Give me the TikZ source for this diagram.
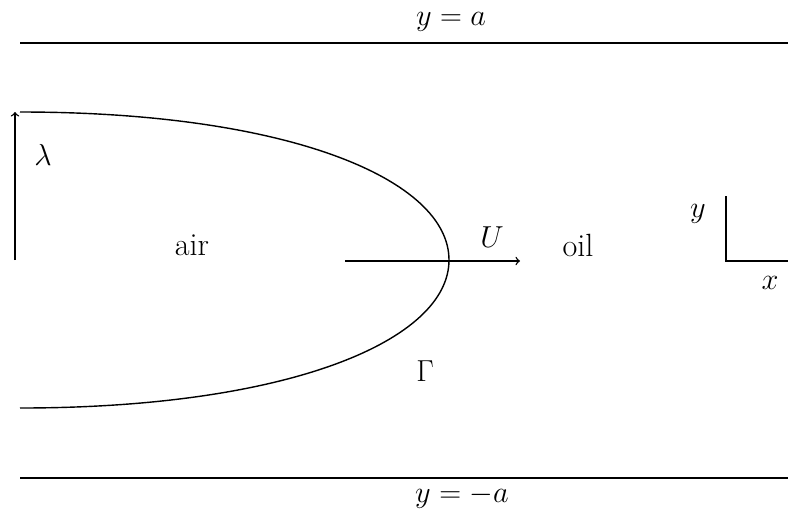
\documentclass[tikz,border=0pt]{standalone}
\usepackage{amsmath}
\begin{document}
\begin{tikzpicture}[x=0.02cm,y=-0.02cm,line width=0.8pt,
  lbl/.style={font=\fontsize{18.3}{22}\selectfont,inner sep=0pt}]
\useasboundingbox (0,0) rectangle (788,515);
% channel walls
\coordinate (topL) at (20,43);
\coordinate (topR) at (788,43);
\coordinate (botL) at (20,478);
\coordinate (botR) at (788,478);
\draw (topL) -- (topR);
\draw (botL) -- (botR);
\node[lbl] (wallA) at (451,22) {$y=a$};
\node[lbl] (wallB) at (462,497) {$y=-a$};

% bubble width
\coordinate (lamB) at (15,260);
\coordinate (lamT) at (15,112);
\draw[->] (lamB) -- (lamT);
\node[lbl] (lam) at (43,155) {$\lambda$};

% interface
\coordinate (gTop) at (20,112);
\coordinate (gTip) at (449,260);
\coordinate (gBot) at (20,408);
\draw (gTop) .. controls (290,112) and (449,180) .. (gTip)
  .. controls (449,340) and (290,408) .. (gBot);
\node[lbl] (gam) at (425,371) {$\Gamma$};

% speed
\coordinate (uA) at (345,261);
\coordinate (uB) at (520,261);
\draw[->] (uA) -- (uB);
\node[lbl] (vel) at (492,237) {$U$};

\node[lbl] (air) at (192,245) {air};
\node[lbl] (oil) at (578,245) {oil};

% axes
\coordinate (ax0) at (726,261);
\coordinate (axY) at (726,196);
\coordinate (axX) at (788,261);
\draw (axY) -- (ax0) -- (axX);
\node[lbl] (ylab) at (698,214) {$y$};
\node[lbl] (xlab) at (770,283) {$x$};
\end{tikzpicture}
\end{document}
